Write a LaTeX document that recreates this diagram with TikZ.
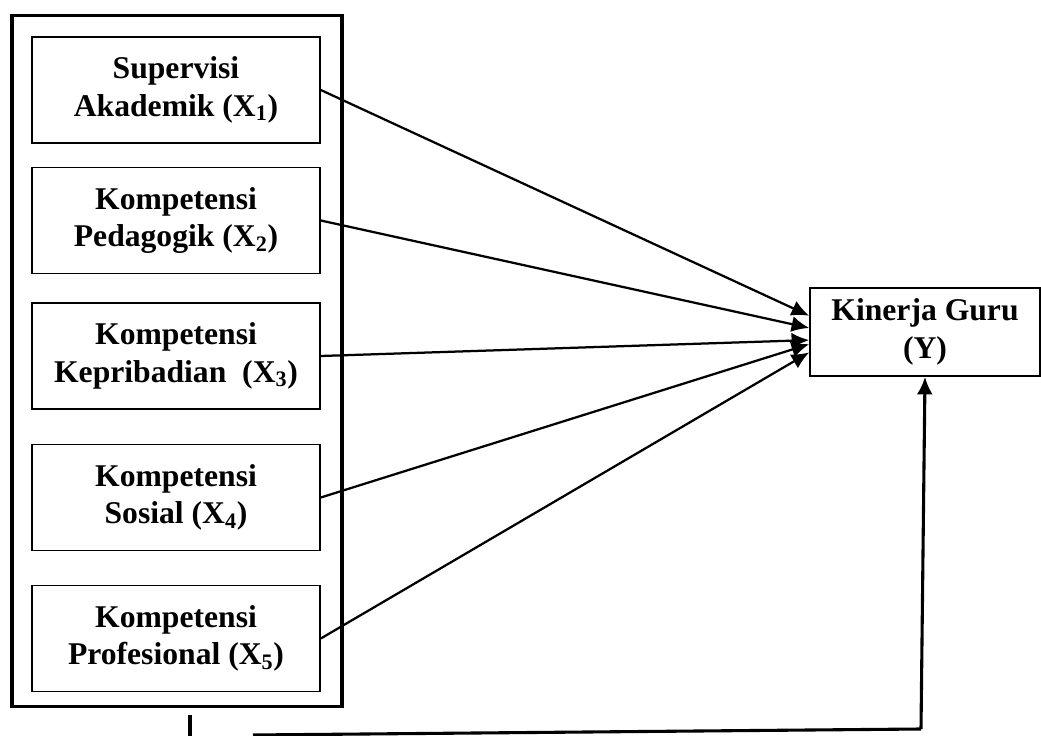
\documentclass[tikz,border=0pt]{standalone}
\usepackage{fontspec}
\setmainfont{Liberation Serif}
\usetikzlibrary{arrows.meta}
\definecolor{darkline}{HTML}{000000}
\tikzset{
  frame/.style={rectangle, draw=darkline, line width=2.2pt, minimum width=8.25cm, minimum height=17.25cm},
  box/.style={rectangle, align=center, draw=darkline, line width=1.1pt, inner sep=0pt,
    font=\fontsize{22.5}{26.5}\selectfont\bfseries},
  varbox/.style={box, minimum width=7.2cm, minimum height=2.64cm},
  target/.style={box, minimum width=5.75cm, minimum height=2.2cm},
  flow/.style={-{Latex[length=4.4mm, width=4mm]}, line width=1.6pt, draw=darkline},
  link/.style={line width=2.2pt, draw=darkline}
}

\begin{document}
\begin{tikzpicture}[x=0.025cm, y=-0.025cm]
\useasboundingbox (0,0) rectangle (1041,736);

\node[frame] (grup) at (177, 361) {};

\node[varbox] (supervisi) at (176, 90) {Supervisi\\Akademik (X\textsubscript{1})};
\node[varbox] (pedagogik) at (176, 220.5) {Kompetensi\\Pedagogik (X\textsubscript{2})};
\node[varbox] (kepribadian) at (176, 356) {Kompetensi\\Kepribadian\ \ (X\textsubscript{3})};
\node[varbox] (sosial) at (176, 497.5) {Kompetensi\\Sosial (X\textsubscript{4})};
\node[varbox] (profesional) at (176, 638.5) {Kompetensi\\Profesional (X\textsubscript{5})};

\node[target] (kinerja) at (925, 332) {\raisebox{-5pt}{Kinerja Guru}\\\raisebox{-5pt}{(Y)}};

\draw[flow] (supervisi.east) -- (kinerja.172);
\draw[flow] (pedagogik.east) -- (kinerja.178);
\draw[flow] (kepribadian.east) -- (kinerja.184);
\draw[flow] (sosial.east) -- (kinerja.186);
\draw[flow] (profesional.east) -- (kinerja.190);

% simultaneous effect
\coordinate (stubtop) at (190, 715);
\coordinate (stubbot) at (190, 737);
\coordinate (linkstart) at (253, 735);
\coordinate (corner) at (921, 729);
\draw[link] (stubtop) -- (stubbot);
\draw[link] (linkstart) -- (corner);
\draw[flow, line width=2.2pt] (corner) -- (kinerja.south);

\end{tikzpicture}
\end{document}
